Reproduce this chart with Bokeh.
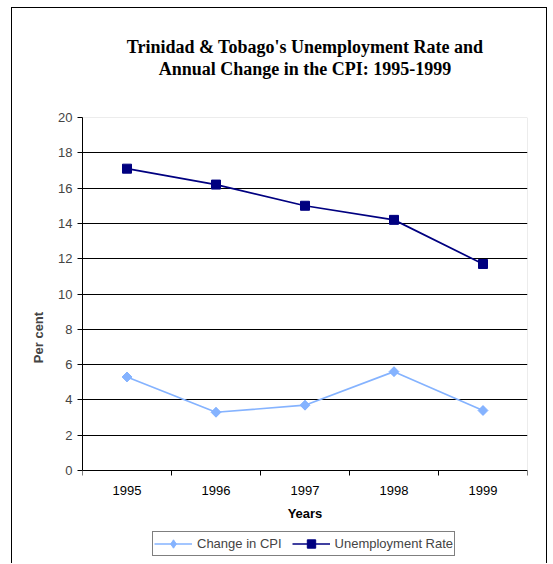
import math
from bokeh.plotting import figure
from bokeh.core.properties import value
from bokeh.models import (FixedTicker, Range1d, Legend, LegendItem, Title, Label,
                          LabelSet, ColumnDataSource, BoxAnnotation)
from bokeh.embed import file_html
from bokeh.resources import INLINE

# ---- data ----
years = ["1995", "1996", "1997", "1998", "1999"]
cpi_change = [5.3, 3.3, 3.7, 5.6, 3.4]
unemployment = [17.1, 16.2, 15.0, 14.2, 11.7]
y_ticks = [0, 2, 4, 6, 8, 10, 12, 14, 16, 18, 20]
title_lines = ["Trinidad & Tobago's Unemployment Rate and",
               "Annual Change in the CPI: 1995-1999"]

x_pos = [i + 0.5 for i in range(len(years))]

CPI_COLOR = "#85B3FF"
UNEMP_COLOR = "#000080"
TICK_FONT = "Liberation Sans"
TITLE_FONT = "Liberation Serif"

# layout constants (pixels)
FRAME_W, FRAME_H = 445, 440
PLOT_H = 353                      # height of the 0..20 plot area
PX_PER_UNIT = PLOT_H / 20.0
y_min = 20 - FRAME_H / PX_PER_UNIT   # frame extends below 0 to hold labels and legend

p = figure(width=534, frame_width=FRAME_W, frame_height=FRAME_H, title=None,
           min_border_left=70, min_border_right=19,
           min_border_top=109, min_border_bottom=6,
           x_range=Range1d(0, len(years)), y_range=Range1d(y_min, 20),
           output_backend="svg", toolbar_location=None, tools="")
p.styles = {"margin-left": "11px", "margin-top": "7px",
            "border-left": "1px solid black", "border-top": "1px solid black",
            "border-right": "1px solid black"}
p.background_fill_color = "white"
p.border_fill_color = "white"
p.outline_line_color = None

# plot-area border (grey)
p.add_layout(BoxAnnotation(left=0, right=len(years), bottom=0, top=20,
                           fill_alpha=0, line_color="#808080", line_width=1,
                           level="underlay"))

# title: items listed from the plot outward (spacer, line 2, line 1, spacer)
def title_item(txt, so, size="18px"):
    return Title(text=txt, align="center", text_font=TITLE_FONT,
                 text_font_style="bold", text_font_size=size,
                 text_color="black", standoff=so)

p.add_layout(title_item(" ", 17), "above")
p.add_layout(title_item(title_lines[1], 0), "above")
p.add_layout(title_item(title_lines[0], 0), "above")
p.add_layout(title_item(" ", 0, "15px"), "above")

# grid
p.xgrid.visible = False
p.ygrid.ticker = FixedTicker(ticks=y_ticks[1:-1])
p.ygrid.grid_line_color = "black"
p.ygrid.grid_line_width = 1

# y axis
p.yaxis.ticker = FixedTicker(ticks=y_ticks)
p.yaxis.bounds = (0, 20)
p.yaxis.major_tick_out = 5
p.yaxis.major_tick_in = 0
p.yaxis.minor_tick_line_color = None
p.yaxis.axis_line_color = "black"
p.yaxis.major_label_text_font = TICK_FONT
p.yaxis.major_label_text_font_size = "13px"
p.yaxis.major_label_standoff = 5
p.yaxis.axis_label = "Per cent"
p.yaxis.axis_label_text_font = TICK_FONT
p.yaxis.axis_label_text_font_style = "bold"
p.yaxis.axis_label_text_font_size = "13px"
p.yaxis.axis_label_standoff = 9

# x axis at y = 0: tick marks at category boundaries
p.xaxis.fixed_location = 0
p.xaxis.ticker = FixedTicker(ticks=x_pos, minor_ticks=list(range(len(years) + 1)))
p.xaxis.major_label_overrides = {x: "" for x in x_pos}
p.xaxis.major_label_standoff = 0
p.xaxis.major_tick_line_color = None
p.xaxis.major_tick_out = 0
p.xaxis.major_tick_in = 0
p.xaxis.minor_tick_line_color = "black"
p.xaxis.minor_tick_out = 5
p.xaxis.minor_tick_in = 0
p.xaxis.axis_line_color = "black"

# category labels and axis title below the x axis
cat_src = ColumnDataSource(dict(x=x_pos, y=[-20 / PX_PER_UNIT] * len(years), t=years))
p.add_layout(LabelSet(x="x", y="y", text="t", source=cat_src, text_align="center",
                      text_baseline="middle", text_font=value(TICK_FONT),
                      text_font_size=value("13px"), text_color="black"))
p.add_layout(Label(x=len(years) / 2, y=-43 / PX_PER_UNIT, text="Years",
                   text_align="center", text_baseline="middle", text_font=TICK_FONT,
                   text_font_style="bold", text_font_size="13px", text_color="black"))

# series
l1 = p.line(x_pos, cpi_change, line_color=CPI_COLOR, line_width=1.7)
# diamond symbol (also used for the legend key), covered by the rotated squares
m1_key = p.scatter(x_pos, cpi_change, marker="diamond", size=9,
                   fill_color=CPI_COLOR, line_color=CPI_COLOR)
m1 = p.scatter(x_pos, cpi_change, marker="square", angle=math.pi / 4, size=7,
               fill_color=CPI_COLOR, line_color=CPI_COLOR)
l2 = p.line(x_pos, unemployment, line_color=UNEMP_COLOR, line_width=1.7)
m2 = p.scatter(x_pos, unemployment, marker="square", size=9,
               fill_color=UNEMP_COLOR, line_color=UNEMP_COLOR)

legend = Legend(items=[LegendItem(label="Change in CPI", renderers=[l1, m1_key]),
                       LegendItem(label="Unemployment Rate", renderers=[l2, m2])],
                orientation="horizontal", location=(70, 1),
                border_line_color="black", border_line_width=1,
                background_fill_color="white", background_fill_alpha=1,
                padding=1, spacing=10, margin=0,
                glyph_width=38, glyph_height=21, label_standoff=5,
                label_text_font=TICK_FONT, label_text_font_size="13px")
p.add_layout(legend, "center")

open("out.html", "w").write(file_html(p, INLINE))
